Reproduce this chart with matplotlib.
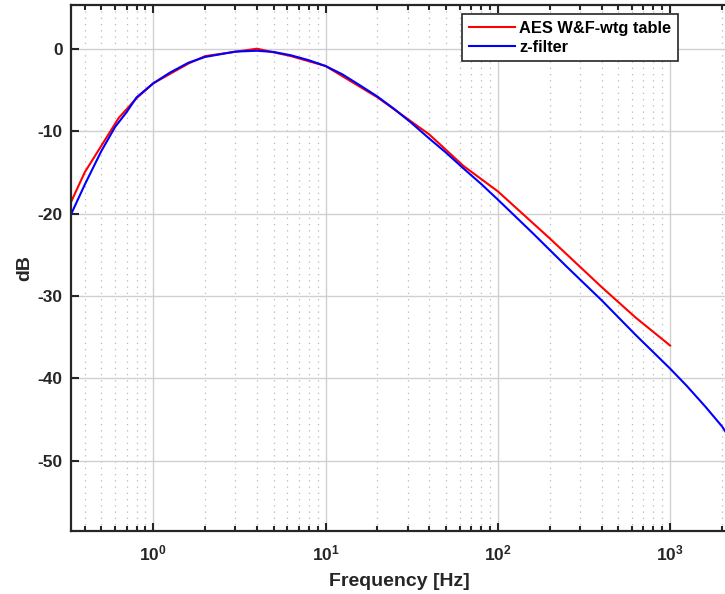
import math
import matplotlib
matplotlib.use('Agg')
import matplotlib.pyplot as plt
from matplotlib.ticker import FuncFormatter, LogLocator, NullFormatter

plt.rcParams['font.family'] = ['Liberation Sans', 'DejaVu Sans']
plt.rcParams['font.weight'] = 'bold'
plt.rcParams['mathtext.fontset'] = 'custom'
plt.rcParams['mathtext.rm'] = 'Liberation Sans:bold'
plt.rcParams['mathtext.bf'] = 'Liberation Sans:bold'
plt.rcParams['axes.unicode_minus'] = False

# AES W&F weighting table (Hz, dB)
table_freq = [0.315, 0.4, 0.63, 0.8, 1.0, 1.6, 2.0, 4.0, 6.3, 10, 20, 40, 63,
              100, 200, 400, 630, 1000]
table_db = [-19.7, -15.0, -8.4, -6.0, -4.2, -1.8, -0.9, 0.0, -0.9, -2.1, -5.9,
            -10.4, -14.2, -17.3, -23.0, -28.9, -32.6, -36.0]

# z-filter response
zf_freq = [0.333, 0.4, 0.5, 0.6, 0.7, 0.8, 1.0, 1.25, 1.6, 2.0, 3.0, 4.0, 5.0,
           6.3, 8.0, 10, 12.5, 16, 20, 25, 31.5, 40, 50, 63, 80, 100, 160, 250,
           400, 630, 1000, 1250, 1600, 2000, 2150]
zf_db = [-20.1, -16.5, -12.4, -9.5, -7.7, -5.9, -4.2, -2.9, -1.7, -1.0, -0.35,
         -0.25, -0.4, -0.8, -1.4, -2.1, -3.1, -4.5, -5.8, -7.3, -9.0, -10.9,
         -12.6, -14.5, -16.4, -18.3, -22.4, -26.4, -30.5, -34.7, -38.8, -40.9,
         -43.4, -45.8, -46.8]

fig = plt.figure(figsize=(7.25, 5.94), dpi=100)
ax = fig.add_axes([71 / 725, 63 / 594, 656 / 725, 526 / 594])

ax.semilogx(table_freq, table_db, color='#ff0000', lw=1.5, label='AES W&F-wtg table')
ax.semilogx(zf_freq, zf_db, color='#0000ff', lw=1.5, label='z-filter')

ax.set_xlim(0.333, 2140)
ax.set_ylim(-58.5, 5.3)
ax.set_yticks([0, -10, -20, -30, -40, -50])
ax.xaxis.set_major_locator(LogLocator(base=10, numticks=10))
ax.xaxis.set_minor_locator(LogLocator(base=10, subs=range(2, 10), numticks=20))
ax.xaxis.set_minor_formatter(NullFormatter())
ax.xaxis.set_major_formatter(FuncFormatter(lambda v, p: r'$\mathbf{10^{%d}}$' % round(math.log10(v))))

ax.grid(True, which='major', color='#d0d0d0', lw=1.0, ls='-')
ax.grid(True, which='minor', axis='x', color='#b8b8b8', lw=0.9, ls=(0, (1, 4)))
ax.set_axisbelow(True)

ax.tick_params(which='both', direction='in', top=True, right=False,
               colors='#262626', labelcolor='#262626', labelsize=12.5, width=1.5)
ax.tick_params(which='major', length=6)
ax.tick_params(which='minor', length=3.5)
ax.tick_params(axis='x', which='major', pad=9)
ax.tick_params(axis='y', which='major', pad=6)
for s in ax.spines.values():
    s.set_color('#262626')
    s.set_linewidth(1.6)

ax.set_xlabel('Frequency [Hz]', fontsize=14, fontweight='bold', color='#262626', labelpad=7)
ax.set_ylabel('dB', fontsize=14, fontweight='bold', color='#262626', labelpad=3)

leg = ax.legend(loc='upper right', bbox_to_anchor=(678 / 725, 1 - 14 / 594),
                bbox_transform=fig.transFigure, borderaxespad=0, fancybox=False,
                fontsize=11.8, handlelength=2.8, handletextpad=0.3,
                labelspacing=0.25, borderpad=0.4)
leg.get_frame().set_edgecolor('#262626')
leg.get_frame().set_linewidth(1.2)
leg.get_frame().set_alpha(1)
for t in leg.get_texts():
    t.set_fontweight('bold')

fig.savefig('out.png', dpi=100)
